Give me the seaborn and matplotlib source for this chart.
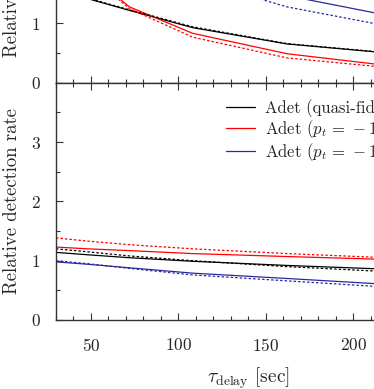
import matplotlib
matplotlib.use("Agg")
import matplotlib.pyplot as plt
from matplotlib.ticker import MultipleLocator
import pandas as pd
import seaborn as sns

sns.set_style("ticks")
plt.rcParams["font.family"] = ["cmr10", "DejaVu Serif"]
plt.rcParams["mathtext.fontset"] = "cm"
plt.rcParams["axes.formatter.use_mathtext"] = True

# delay values [sec]
tau = [30, 48, 72, 108, 162, 243]

# upper panel (only its lower part is visible)
top_black = [1.75, 1.42, 1.22, 0.93, 0.655, 0.44]
top_black_dot = [1.76, 1.43, 1.23, 0.945, 0.66, 0.445]
top_red = [2.4, 1.85, 1.28, 0.835, 0.49, 0.21]
top_red_dot = [2.35, 1.85, 1.25, 0.77, 0.42, 0.19]
top_blue = [3.6, 2.9, 2.4, 1.96, 1.47, 1.0]
top_blue_dot = [3.3, 2.6, 2.1, 1.75, 1.28, 0.825]

# lower panel
bot_black = [1.14, 1.10, 1.05, 0.99, 0.92, 0.83]
bot_black_dot = [1.20, 1.15, 1.08, 1.00, 0.90, 0.78]
bot_red = [1.23, 1.20, 1.17, 1.12, 1.07, 1.00]
bot_red_dot = [1.385, 1.33, 1.27, 1.20, 1.12, 1.02]
bot_blue = [0.98, 0.94, 0.88, 0.79, 0.70, 0.56]
bot_blue_dot = [1.00, 0.95, 0.87, 0.76, 0.66, 0.51]

labels = ["Adet (quasi-fiducial)", r"Adet ($p_t\,=\,-1.0$)", r"Adet ($p_t\,=\,-1.5$)"]
colors = ["black", "#ff0000", "#2a2a9c"]


def draw(ax, solid, dotted, legend=False):
    for vals, col, lab in zip(solid, colors, labels):
        df = pd.DataFrame({"tau": tau, "rate": vals})
        sns.lineplot(data=df, x="tau", y="rate", ax=ax, color=col, lw=0.9,
                     label=lab if legend else None)
    for vals, col in zip(dotted, colors):
        df = pd.DataFrame({"tau": tau, "rate": vals})
        sns.lineplot(data=df, x="tau", y="rate", ax=ax, color=col, lw=0.9,
                     linestyle=(0, (2.0, 1.6)))
    ax.set_xlim(30, 250)
    ax.set_ylim(0, 4)
    ax.xaxis.set_major_locator(MultipleLocator(50))
    ax.xaxis.set_minor_locator(MultipleLocator(10))
    ax.yaxis.set_major_locator(MultipleLocator(1))
    ax.yaxis.set_minor_locator(MultipleLocator(0.5))
    ax.tick_params(which="both", direction="in", top=True, right=True,
                   labelsize=12.5, color="#333333")
    ax.tick_params(which="major", length=5, width=0.8)
    ax.tick_params(which="minor", length=2.6, width=0.8)
    ax.tick_params(axis="x", which="both", pad=12)
    ax.tick_params(axis="y", which="both", pad=11)
    for s in ax.spines.values():
        s.set_linewidth(1.0)
        s.set_color("#333333")
    ax.set_ylabel("Relative detection rate", fontsize=13.5, labelpad=7)


fig = plt.figure(figsize=(3.74, 3.89), dpi=100)
ax_top = fig.add_axes([0.1497, 0.7872, 1.0294, 0.6098])
ax_bot = fig.add_axes([0.1497, 0.1774, 1.0294, 0.6098])

draw(ax_top, [top_black, top_red, top_blue],
     [top_black_dot, top_red_dot, top_blue_dot])
ax_top.set_xlabel("")
ax_top.tick_params(labelbottom=False)

draw(ax_bot, [bot_black, bot_red, bot_blue],
     [bot_black_dot, bot_red_dot, bot_blue_dot], legend=True)
ax_bot.set_yticks([0, 1, 2, 3])
ax_bot.set_xlabel(r"$\tau_{\rm delay}$ [sec]", fontsize=14, labelpad=8.5)
ax_bot.legend(loc="upper left", bbox_to_anchor=(0.441, 0.932), frameon=False,
              fontsize=12, handlelength=1.75, handletextpad=0.6,
              labelspacing=0.02, borderaxespad=0, borderpad=0)

fig.savefig("out.png", dpi=100)
